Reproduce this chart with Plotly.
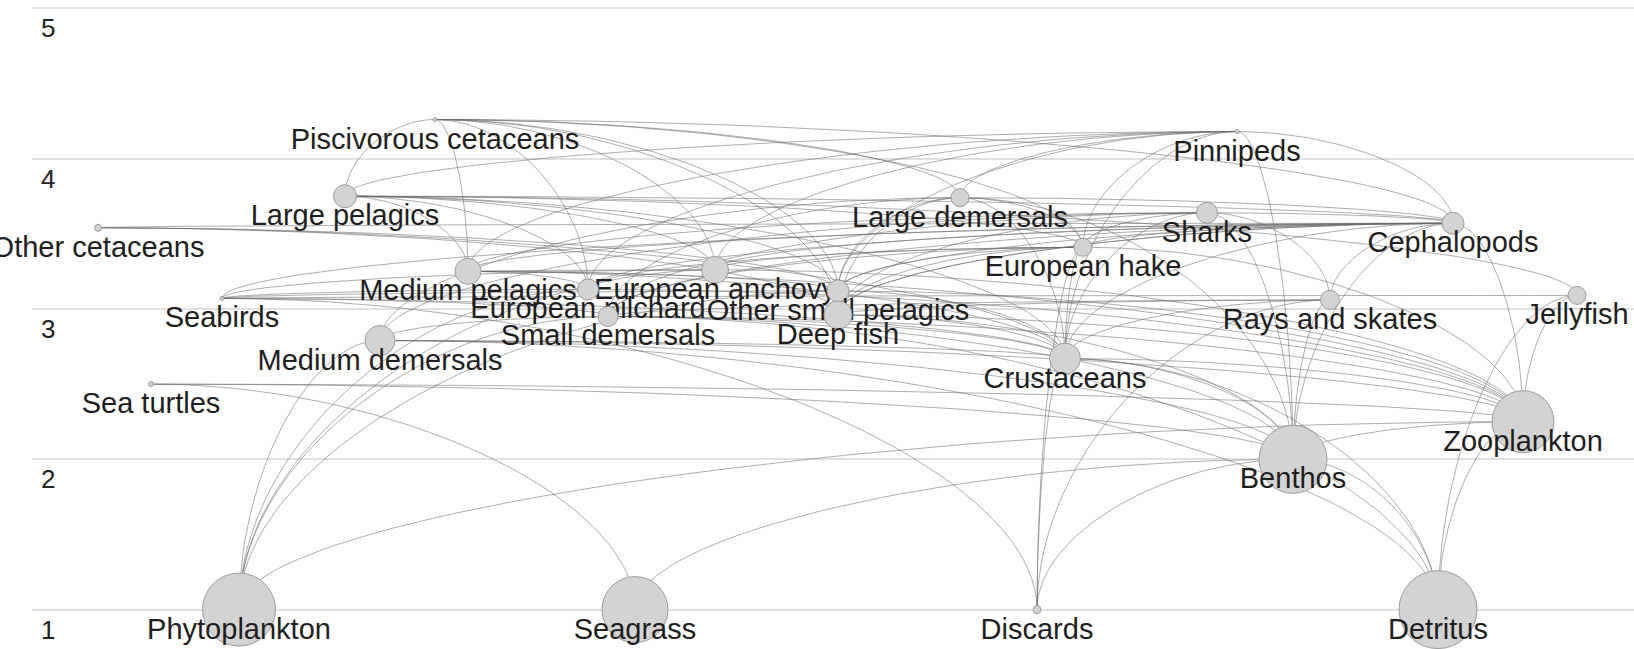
import numpy as np
import plotly.graph_objects as go

# ---------------- data ----------------
groups = ["Piscivorous cetaceans", "Pinnipeds", "Large pelagics", "Large demersals", "Sharks",
          "Cephalopods", "Other cetaceans", "European hake", "Medium pelagics", "European anchovy",
          "European pilchard", "Other small pelagics", "Jellyfish", "Rays and skates", "Seabirds",
          "Deep fish", "Small demersals", "Medium demersals", "Crustaceans", "Sea turtles",
          "Zooplankton", "Benthos", "Phytoplankton", "Seagrass", "Discards", "Detritus"]
# horizontal layout position of each group (diagram units)
layout_x = [435, 1237, 345, 960, 1207, 1453, 98, 1083, 468, 715,
            588, 838, 1577, 1330, 222, 838, 608, 380, 1065, 151,
            1523, 1293, 239, 635, 1037, 1438]
# trophic level (vertical axis)
trophic_level = [4.26, 4.18, 3.75, 3.74, 3.64, 3.57, 3.54, 3.41, 3.25, 3.26,
                 3.13, 3.12, 3.09, 3.06, 3.07, 2.96, 2.95, 2.79, 2.67, 2.50,
                 2.25, 2.00, 1.00, 1.00, 1.00, 1.00]
# relative node size (biomass symbol diameter)
node_size = [4, 4, 23, 18, 21, 22, 7, 18, 26, 27,
             21, 22, 18, 19, 4, 28, 20, 30, 31, 5,
             62, 68, 73, 66, 8, 78]

# predator -> list of prey
diet = {
    "Piscivorous cetaceans": ["Large pelagics", "Medium pelagics", "European anchovy", "European pilchard",
                              "Other small pelagics", "European hake", "Large demersals", "Cephalopods", "Deep fish"],
    "Pinnipeds": ["Large pelagics", "Medium pelagics", "European anchovy", "European pilchard",
                  "Other small pelagics", "European hake", "Large demersals", "Cephalopods", "Benthos", "Crustaceans"],
    "Large pelagics": ["Medium pelagics", "European anchovy", "European pilchard", "Other small pelagics",
                       "European hake", "Cephalopods", "Crustaceans", "Jellyfish"],
    "Large demersals": ["European hake", "Other small pelagics", "Deep fish", "Small demersals",
                        "Medium demersals", "Cephalopods", "Crustaceans", "Benthos"],
    "Sharks": ["Medium pelagics", "European hake", "Rays and skates", "Deep fish", "Small demersals",
               "Medium demersals", "Cephalopods", "Crustaceans", "Benthos"],
    "Cephalopods": ["European anchovy", "European pilchard", "Other small pelagics", "Deep fish",
                    "Small demersals", "Crustaceans", "Zooplankton", "Benthos"],
    "Other cetaceans": ["Cephalopods", "Other small pelagics", "Deep fish", "Crustaceans"],
    "European hake": ["European anchovy", "European pilchard", "Other small pelagics", "Deep fish",
                      "Small demersals", "Cephalopods", "Crustaceans", "Zooplankton", "Discards"],
    "Medium pelagics": ["European anchovy", "European pilchard", "Other small pelagics", "Cephalopods",
                        "Crustaceans", "Zooplankton"],
    "European anchovy": ["Zooplankton", "Phytoplankton"],
    "European pilchard": ["Zooplankton", "Phytoplankton"],
    "Other small pelagics": ["Crustaceans", "Zooplankton", "Phytoplankton"],
    "Jellyfish": ["Zooplankton", "Detritus"],
    "Rays and skates": ["Deep fish", "Small demersals", "Cephalopods", "Crustaceans", "Benthos", "Discards"],
    "Seabirds": ["European anchovy", "European pilchard", "Other small pelagics", "Small demersals",
                 "Cephalopods", "Crustaceans", "Jellyfish", "Discards"],
    "Deep fish": ["Cephalopods", "Crustaceans", "Zooplankton", "Benthos"],
    "Small demersals": ["Crustaceans", "Zooplankton", "Benthos", "Phytoplankton", "Detritus"],
    "Medium demersals": ["Small demersals", "Crustaceans", "Zooplankton", "Benthos", "Phytoplankton", "Detritus"],
    "Crustaceans": ["Zooplankton", "Benthos", "Discards", "Detritus"],
    "Sea turtles": ["Zooplankton", "Benthos", "Seagrass"],
    "Zooplankton": ["Phytoplankton", "Detritus"],
    "Benthos": ["Zooplankton", "Seagrass", "Detritus", "Discards"],
}

tick_values = [1, 2, 3, 4, 5]
tick_labels = ["1", "2", "3", "4", "5"]

# ---------------- build figure ----------------
pos = {g: (x, y) for g, x, y in zip(groups, layout_x, trophic_level)}

ex, ey = [], []
t = np.linspace(0, 1, 48)
for pred, preys in diet.items():
    for prey in preys:
        a, b = pos[pred], pos[prey]
        lo, up = (a, b) if a[1] < b[1] else (b, a)
        x0, y0 = lo
        x3, y3 = up
        c1 = (x0, (y0 + y3) / 2.0)
        c2 = ((x0 + x3) / 2.0, y3)
        bx = (1 - t) ** 3 * x0 + 3 * (1 - t) ** 2 * t * c1[0] + 3 * (1 - t) * t ** 2 * c2[0] + t ** 3 * x3
        by = (1 - t) ** 3 * y0 + 3 * (1 - t) ** 2 * t * c1[1] + 3 * (1 - t) * t ** 2 * c2[1] + t ** 3 * y3
        ex.extend(bx.tolist() + [None])
        ey.extend(by.tolist() + [None])

fig = go.Figure()
fig.add_trace(go.Scatter(x=ex, y=ey, mode="lines",
                         line=dict(color="rgba(105,105,105,0.55)", width=1),
                         hoverinfo="skip", cliponaxis=False))

label_font = dict(family="Liberation Sans, Arial, sans-serif", size=29, color="#1e1e1e")
order = sorted(range(len(groups)), key=lambda i: -trophic_level[i])
for i in order:
    fig.add_trace(go.Scatter(
        x=[layout_x[i]], y=[trophic_level[i]], mode="markers",
        marker=dict(size=node_size[i], color="#d3d3d3", line=dict(color="#9c9c9c", width=1)),
        hoverinfo="text", hovertext=[groups[i]], cliponaxis=False))
    fig.add_trace(go.Scatter(
        x=[layout_x[i]], y=[trophic_level[i]], mode="markers+text",
        marker=dict(size=10, color="rgba(0,0,0,0)"),
        text=[groups[i]], textposition="bottom center", textfont=label_font,
        hoverinfo="skip", cliponaxis=False))

fig.update_layout(
    width=1634, height=649,
    margin=dict(l=32, r=0, t=0, b=0),
    plot_bgcolor="white", paper_bgcolor="white",
    showlegend=False,
    xaxis=dict(range=[32, 1634], visible=False),
    yaxis=dict(range=[0.738, 5.055], tickvals=tick_values, ticktext=tick_labels,
               showgrid=True, gridcolor="#e1e1e1", gridwidth=2,
               zeroline=False, showline=False, ticks="",
               ticklabelposition="inside", ticklabelshift=20, ticklabelstandoff=6,
               tickfont=dict(family="Liberation Sans, Arial, sans-serif", size=26, color="#222222")),
)

fig.write_html("out.html")
